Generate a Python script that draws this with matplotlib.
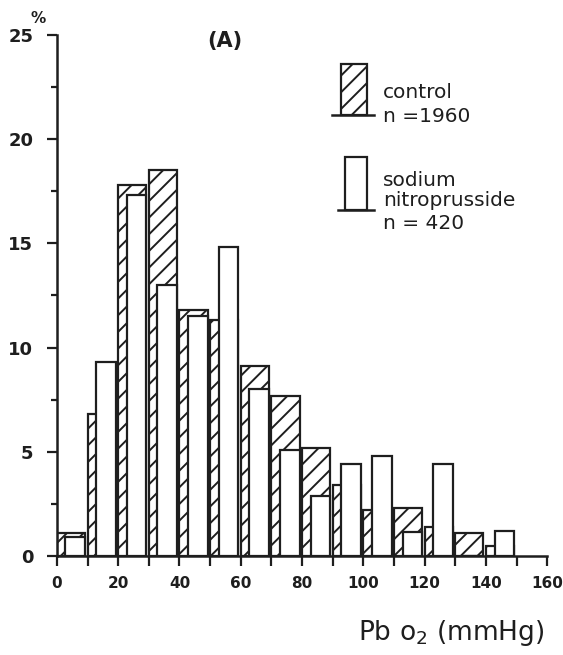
import numpy as np
import matplotlib.pyplot as plt
from matplotlib.patches import Rectangle

# PbO2 bins (mmHg), lower edge of each 10 mmHg class
bins = [0, 10, 20, 30, 40, 50, 60, 70, 80, 90, 100, 110, 120, 130, 140]
# percent of measurements per class
control = [1.1, 6.8, 17.8, 18.5, 11.8, 11.3, 9.1, 7.7, 5.2, 3.4, 2.2, 2.3, 1.4, 1.1, 0.5]
nitroprusside = [0.9, 9.3, 17.3, 13.0, 11.5, 14.8, 8.0, 5.1, 2.9, 4.4, 4.8, 1.15, 4.4, 0.0, 1.2]

ink = '#1e1e1e'
plt.rcParams['hatch.linewidth'] = 1.4
plt.rcParams['hatch.color'] = ink

fig = plt.figure(figsize=(5.63, 6.55), dpi=100)
ax = fig.add_axes([0.101, 0.151, 0.871, 0.796])

x = np.array(bins)
ax.bar(x, control, width=9.2, align='edge', facecolor='white',
       edgecolor=ink, linewidth=1.6, hatch='//', zorder=2)
ax.bar(x + 2.8, nitroprusside, width=6.4, align='edge', facecolor='white',
       edgecolor=ink, linewidth=1.6, zorder=3)

ax.set_xlim(0, 160)
ax.set_ylim(0, 25)
ax.spines['top'].set_visible(False)
ax.spines['right'].set_visible(False)
for s in ['left', 'bottom']:
    ax.spines[s].set_linewidth(1.8)
    ax.spines[s].set_color(ink)

ax.set_xticks(np.arange(0, 161, 20))
ax.set_xticks(np.arange(0, 161, 10), minor=True)
ax.set_yticks(np.arange(0, 26, 5))
ax.set_yticks(np.arange(0, 25, 2.5), minor=True)
ax.tick_params(which='both', direction='out', width=1.6, color=ink)
ax.tick_params(which='major', length=7)
ax.tick_params(axis='x', which='minor', length=7)
ax.tick_params(axis='y', which='minor', length=4)
ax.tick_params(axis='y', pad=10)
ax.tick_params(axis='x', pad=7)
for lab in ax.get_xticklabels():
    lab.set_fontsize(11)
    lab.set_fontweight('bold')
    lab.set_color(ink)
for lab in ax.get_yticklabels():
    lab.set_fontsize(13)
    lab.set_fontweight('bold')
    lab.set_color(ink)

fig.text(0.068, 0.972, '%', fontsize=11, fontweight='bold', color=ink,
         ha='center', va='center')
fig.text(0.40, 0.938, '(A)', fontsize=15, fontweight='bold', color=ink,
         ha='center', va='center')
fig.text(0.968, 0.033, r'Pb o$_2$ (mmHg)', fontsize=19, color=ink,
         ha='right', va='center')

# legend drawn by hand: small bars standing on a base line
def legend_bar(x0, x1, ytop, ybase, lx0, lx1, hatch):
    fig.patches.append(Rectangle((x0 / 563, 1 - ybase / 655), (x1 - x0) / 563,
                                 (ybase - ytop) / 655, transform=fig.transFigure,
                                 facecolor='white', edgecolor=ink, linewidth=1.6,
                                 hatch=hatch))
    fig.add_artist(plt.Line2D([lx0 / 563, lx1 / 563], [1 - ybase / 655] * 2,
                              transform=fig.transFigure, color=ink, linewidth=1.8))

legend_bar(341, 367, 64, 115, 332, 374, '//')
legend_bar(345, 367, 157, 210, 338, 374, None)

fig.text(383 / 563, 1 - 93 / 655, 'control', fontsize=14.5, color=ink, va='center')
fig.text(383 / 563, 1 - 116 / 655, 'n =1960', fontsize=14.5, color=ink, va='center')
fig.text(383 / 563, 1 - 180 / 655, 'sodium', fontsize=14.5, color=ink, va='center')
fig.text(383 / 563, 1 - 200 / 655, 'nitroprusside', fontsize=14.5, color=ink, va='center')
fig.text(383 / 563, 1 - 224 / 655, 'n = 420', fontsize=14.5, color=ink, va='center')

fig.savefig('out.png', dpi=100, facecolor='white')
